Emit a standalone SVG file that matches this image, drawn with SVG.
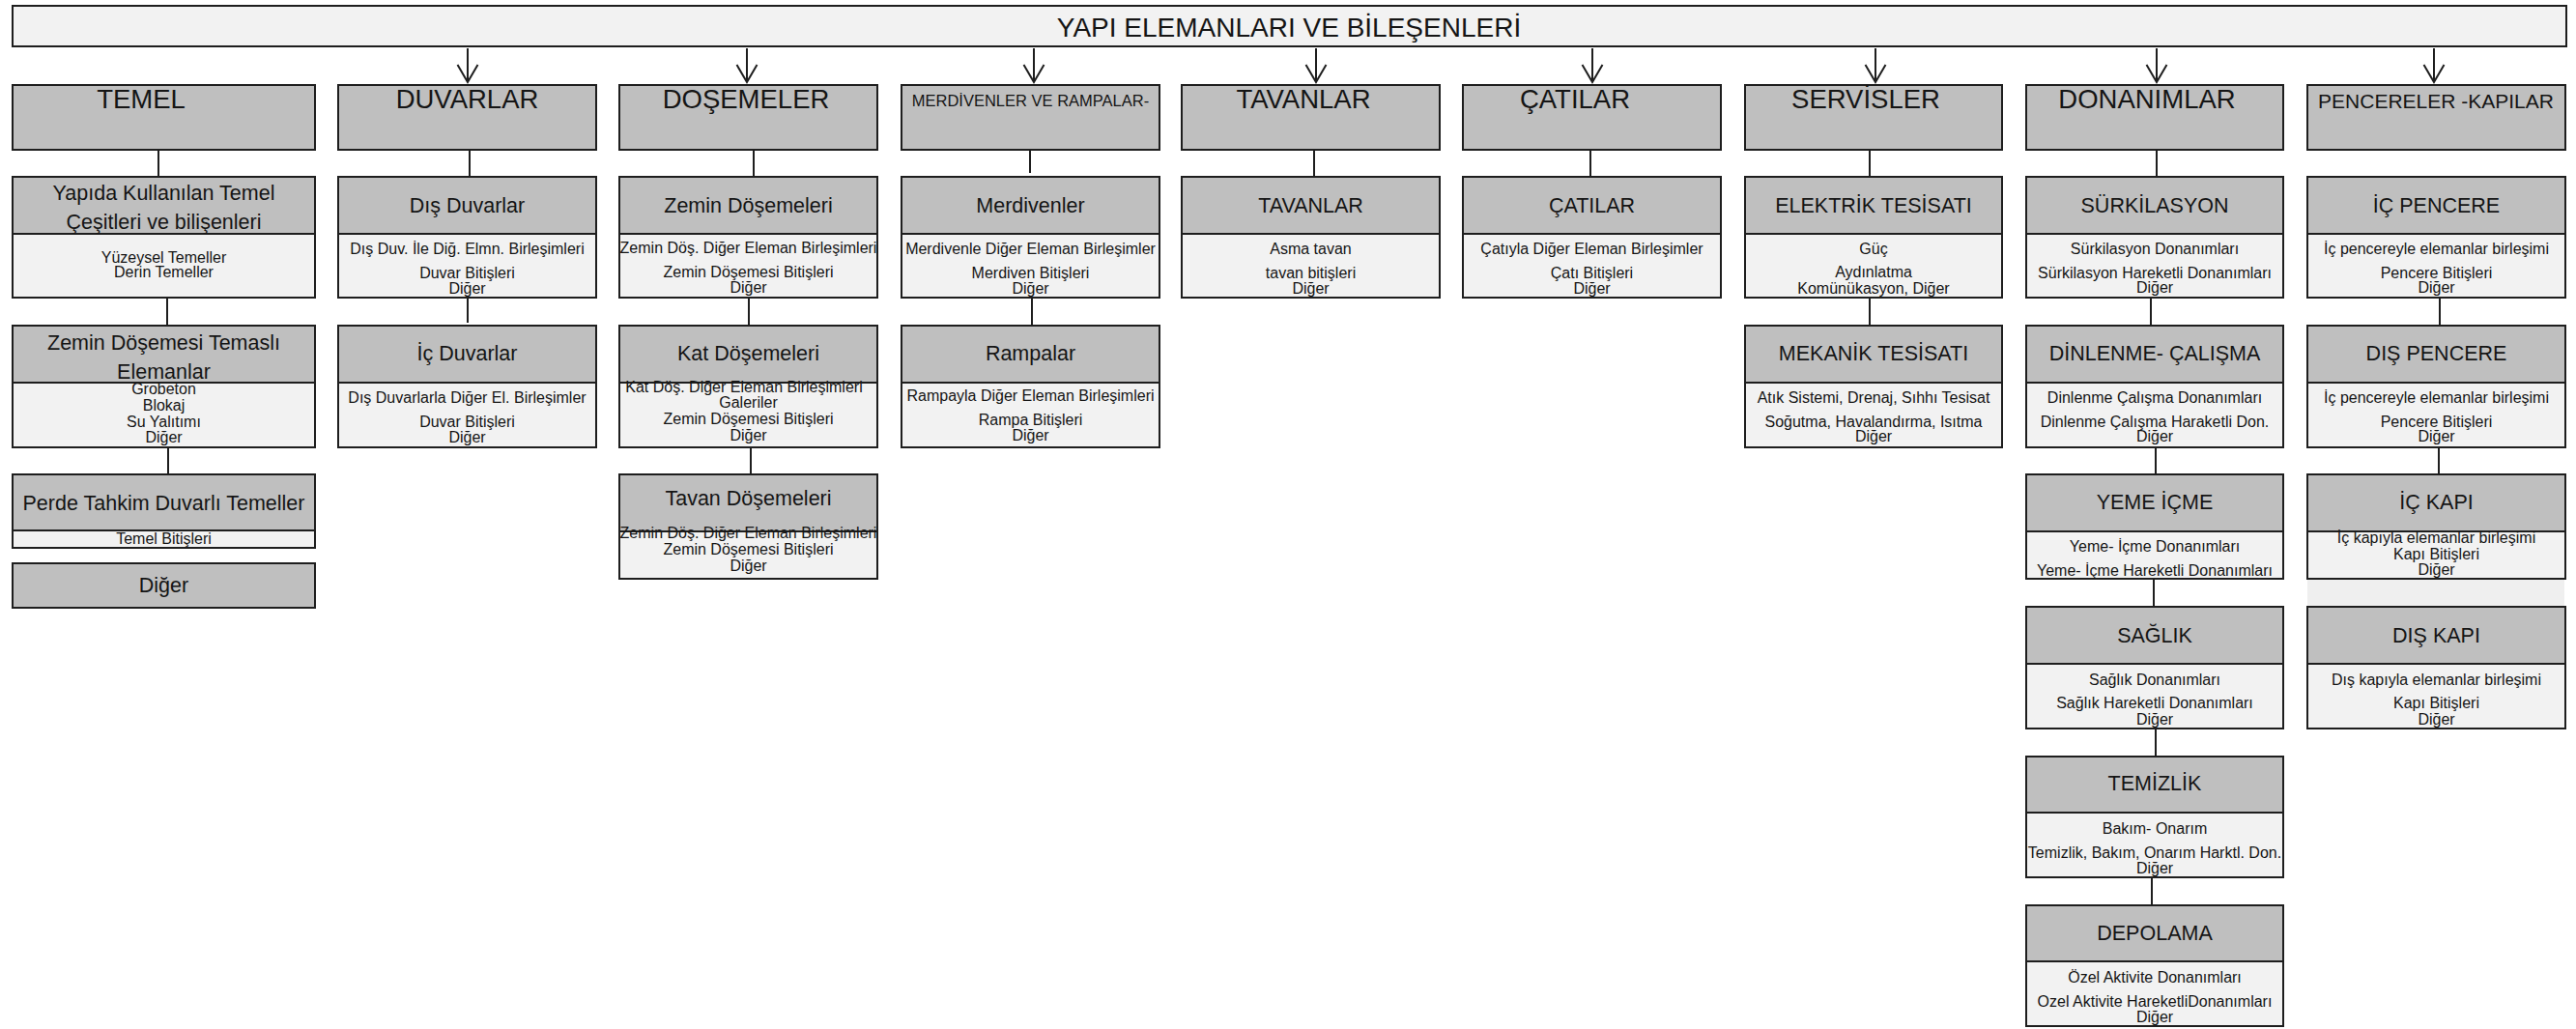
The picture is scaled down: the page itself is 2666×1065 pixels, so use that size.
<svg xmlns="http://www.w3.org/2000/svg" width="2666" height="1065" viewBox="0 0 2666 1065">
  <style>
    .bg { fill: #ffffff; }
    .top { fill: #f2f2f2; stroke: #1e1e1e; stroke-width: 2; }
    .hd { fill: #bfbfbf; stroke: #1e1e1e; stroke-width: 2; }
    .bd { fill: #f2f2f2; stroke: #1e1e1e; stroke-width: 2; }
    .band { fill: #efefef; stroke: none; }
    text { font-family: "Liberation Sans", Arial, sans-serif; fill: #151515; text-anchor: middle; }
    .t0 { font-size: 28px; }
    .t1 { font-size: 27.5px; }
    .t1s { font-size: 16.5px; }
    .t1m { font-size: 21px; }
    .t2 { font-size: 21.5px; }
    .t3 { font-size: 16px; }
    .conn line { stroke: #1e1e1e; stroke-width: 2; fill: none; }
    .conn .arr { marker-end: url(#vhead); }
  </style>
  <defs>
    <marker id="vhead" markerUnits="userSpaceOnUse" markerWidth="40" markerHeight="40" refX="0" refY="0" orient="auto" overflow="visible">
      <path d="M-18,-10.5 L0,0 L-18,10.5" fill="none" stroke="#1e1e1e" stroke-width="2"/>
    </marker>
  </defs>

  <rect class="bg" x="0" y="0" width="2666" height="1065"/>

  <!-- root -->
  <g id="root">
    <rect class="top" x="13" y="6" width="2643" height="42"/>
    <text class="t0" x="1334" y="38">YAPI ELEMANLARI VE BİLEŞENLERİ</text>
  </g>

  <!-- connectors -->
  <g id="connectors" class="conn">
    <line class="arr" x1="484" y1="50" x2="484" y2="85"/>
    <line class="arr" x1="773" y1="50" x2="773" y2="85"/>
    <line class="arr" x1="1070" y1="50" x2="1070" y2="85"/>
    <line class="arr" x1="1362" y1="50" x2="1362" y2="85"/>
    <line class="arr" x1="1648" y1="50" x2="1648" y2="85"/>
    <line class="arr" x1="1941" y1="50" x2="1941" y2="85"/>
    <line class="arr" x1="2232" y1="50" x2="2232" y2="85"/>
    <line class="arr" x1="2519" y1="50" x2="2519" y2="85"/>

    <line x1="164" y1="156" x2="164" y2="183"/>
    <line x1="486" y1="156" x2="486" y2="183"/>
    <line x1="780" y1="156" x2="780" y2="183"/>
    <line x1="1066" y1="152" x2="1066" y2="179"/>
    <line x1="1360" y1="156" x2="1360" y2="183"/>
    <line x1="1646" y1="156" x2="1646" y2="183"/>
    <line x1="1935" y1="156" x2="1935" y2="183"/>
    <line x1="2232" y1="156" x2="2232" y2="183"/>

    <line x1="173" y1="308" x2="173" y2="337"/>
    <line x1="484" y1="308" x2="484" y2="334"/>
    <line x1="775" y1="308" x2="775" y2="337"/>
    <line x1="1068" y1="308" x2="1068" y2="337"/>
    <line x1="1935" y1="308" x2="1935" y2="337"/>
    <line x1="2226" y1="308" x2="2226" y2="337"/>
    <line x1="2525" y1="308" x2="2525" y2="337"/>

    <line x1="174" y1="463" x2="174" y2="491"/>
    <line x1="777" y1="463" x2="777" y2="491"/>
    <line x1="2231" y1="463" x2="2231" y2="491"/>
    <line x1="2524" y1="463" x2="2524" y2="491"/>

    <line x1="2229" y1="599" x2="2229" y2="628"/>
    <line x1="2231" y1="754" x2="2231" y2="783"/>
    <line x1="2227" y1="908" x2="2227" y2="937"/>
  </g>

  <!-- TEMEL -->
  <g id="temel">
    <rect class="hd" x="13" y="88" width="313" height="67"/>
    <text class="t1" x="146" y="112">TEMEL</text>
  </g>
  <g id="temel-cesitleri">
    <rect class="hd" x="13" y="183" width="313" height="59"/>
    <rect class="bd" x="13" y="242" width="313" height="66"/>
    <text class="t2" x="169.5" y="207">Yapıda Kullanılan Temel</text>
    <text class="t2" x="169.5" y="237">Çeşitleri ve bilişenleri</text>
    <text class="t3" x="169.5" y="272">Yüzeysel Temeller</text>
    <text class="t3" x="169.5" y="287">Derin Temeller</text>
  </g>
  <g id="temel-zemin">
    <rect class="hd" x="13" y="337" width="313" height="59"/>
    <rect class="bd" x="13" y="396" width="313" height="67"/>
    <text class="t2" x="169.5" y="362">Zemin Döşemesi Temaslı</text>
    <text class="t2" x="169.5" y="392">Elemanlar</text>
    <text class="t3" x="169.5" y="408">Grobeton</text>
    <text class="t3" x="169.5" y="425">Blokaj</text>
    <text class="t3" x="169.5" y="442">Su Yalıtımı</text>
    <text class="t3" x="169.5" y="458">Diğer</text>
  </g>
  <g id="temel-perde">
    <rect class="hd" x="13" y="491" width="313" height="58"/>
    <rect class="bd" x="13" y="549" width="313" height="18"/>
    <text class="t2" x="169.5" y="528">Perde Tahkim Duvarlı Temeller</text>
    <text class="t3" x="169.5" y="563">Temel Bitişleri</text>
  </g>
  <g id="temel-diger">
    <rect class="hd" x="13" y="583" width="313" height="46"/>
    <text class="t2" x="169.5" y="613">Diğer</text>
  </g>

  <!-- DUVARLAR -->
  <g id="duvarlar">
    <rect class="hd" x="350" y="88" width="267" height="67"/>
    <text class="t1" x="483.5" y="112">DUVARLAR</text>
  </g>
  <g id="dis-duvarlar">
    <rect class="hd" x="350" y="183" width="267" height="59"/>
    <rect class="bd" x="350" y="242" width="267" height="66"/>
    <text class="t2" x="483.5" y="220">Dış Duvarlar</text>
    <text class="t3" x="483.5" y="263">Dış Duv. İle Diğ. Elmn. Birleşimleri</text>
    <text class="t3" x="483.5" y="288">Duvar Bitişleri</text>
    <text class="t3" x="483.5" y="304">Diğer</text>
  </g>
  <g id="ic-duvarlar">
    <rect class="hd" x="350" y="337" width="267" height="59"/>
    <rect class="bd" x="350" y="396" width="267" height="67"/>
    <text class="t2" x="483.5" y="373">İç Duvarlar</text>
    <text class="t3" x="483.5" y="417">Dış Duvarlarla Diğer El. Birleşimler</text>
    <text class="t3" x="483.5" y="442">Duvar Bitişleri</text>
    <text class="t3" x="483.5" y="458">Diğer</text>
  </g>

  <!-- DOŞEMELER -->
  <g id="dosemeler">
    <rect class="hd" x="641" y="88" width="267" height="67"/>
    <text class="t1" x="772" y="112">DOŞEMELER</text>
  </g>
  <g id="zemin-dosemeleri">
    <rect class="hd" x="641" y="183" width="267" height="59"/>
    <rect class="bd" x="641" y="242" width="267" height="66"/>
    <text class="t2" x="774.5" y="220">Zemin Döşemeleri</text>
    <text class="t3" x="774.5" y="262">Zemin Döş. Diğer Eleman Birleşimleri</text>
    <text class="t3" x="774.5" y="287">Zemin Döşemesi Bitişleri</text>
    <text class="t3" x="774.5" y="303">Diğer</text>
  </g>
  <g id="kat-dosemeleri">
    <rect class="hd" x="641" y="337" width="267" height="59"/>
    <rect class="bd" x="641" y="396" width="267" height="67"/>
    <text class="t2" x="774.5" y="373">Kat Döşemeleri</text>
    <text class="t3" x="770" y="406">Kat Döş. Diğer Eleman Birleşimleri</text>
    <text class="t3" x="774.5" y="422">Galeriler</text>
    <text class="t3" x="774.5" y="439">Zemin Döşemesi Bitişleri</text>
    <text class="t3" x="774.5" y="456">Diğer</text>
  </g>
  <g id="tavan-dosemeleri">
    <rect class="hd" x="641" y="491" width="267" height="59"/>
    <rect class="bd" x="641" y="550" width="267" height="49"/>
    <text class="t2" x="774.5" y="523">Tavan Döşemeleri</text>
    <text class="t3" x="774.5" y="557">Zemin Döş. Diğer Eleman Birleşimleri</text>
    <text class="t3" x="774.5" y="574">Zemin Döşemesi Bitişleri</text>
    <text class="t3" x="774.5" y="591">Diğer</text>
  </g>

  <!-- MERDİVENLER VE RAMPALAR -->
  <g id="merdivenler-rampalar">
    <rect class="hd" x="933" y="88" width="267" height="67"/>
    <text class="t1s" x="1066.5" y="110">MERDİVENLER VE RAMPALAR-</text>
  </g>
  <g id="merdivenler">
    <rect class="hd" x="933" y="183" width="267" height="59"/>
    <rect class="bd" x="933" y="242" width="267" height="66"/>
    <text class="t2" x="1066.5" y="220">Merdivenler</text>
    <text class="t3" x="1066.5" y="263">Merdivenle Diğer Eleman Birleşimler</text>
    <text class="t3" x="1066.5" y="288">Merdiven Bitişleri</text>
    <text class="t3" x="1066.5" y="304">Diğer</text>
  </g>
  <g id="rampalar">
    <rect class="hd" x="933" y="337" width="267" height="59"/>
    <rect class="bd" x="933" y="396" width="267" height="67"/>
    <text class="t2" x="1066.5" y="373">Rampalar</text>
    <text class="t3" x="1066.5" y="415">Rampayla Diğer Eleman Birleşimleri</text>
    <text class="t3" x="1066.5" y="440">Rampa Bitişleri</text>
    <text class="t3" x="1066.5" y="456">Diğer</text>
  </g>

  <!-- TAVANLAR -->
  <g id="tavanlar">
    <rect class="hd" x="1223" y="88" width="267" height="67"/>
    <text class="t1" x="1349" y="112">TAVANLAR</text>
  </g>
  <g id="tavanlar-alt">
    <rect class="hd" x="1223" y="183" width="267" height="59"/>
    <rect class="bd" x="1223" y="242" width="267" height="66"/>
    <text class="t2" x="1356.5" y="220">TAVANLAR</text>
    <text class="t3" x="1356.5" y="263">Asma tavan</text>
    <text class="t3" x="1356.5" y="288">tavan bitişleri</text>
    <text class="t3" x="1356.5" y="304">Diğer</text>
  </g>

  <!-- ÇATILAR -->
  <g id="catilar">
    <rect class="hd" x="1514" y="88" width="267" height="67"/>
    <text class="t1" x="1630" y="112">ÇATILAR</text>
  </g>
  <g id="catilar-alt">
    <rect class="hd" x="1514" y="183" width="267" height="59"/>
    <rect class="bd" x="1514" y="242" width="267" height="66"/>
    <text class="t2" x="1647.5" y="220">ÇATILAR</text>
    <text class="t3" x="1647.5" y="263">Çatıyla Diğer Eleman Birleşimler</text>
    <text class="t3" x="1647.5" y="288">Çatı Bitişleri</text>
    <text class="t3" x="1647.5" y="304">Diğer</text>
  </g>

  <!-- SERVİSLER -->
  <g id="servisler">
    <rect class="hd" x="1806" y="88" width="266" height="67"/>
    <text class="t1" x="1931" y="112">SERVİSLER</text>
  </g>
  <g id="elektrik-tesisati">
    <rect class="hd" x="1806" y="183" width="266" height="59"/>
    <rect class="bd" x="1806" y="242" width="266" height="66"/>
    <text class="t2" x="1939" y="220">ELEKTRİK TESİSATI</text>
    <text class="t3" x="1939" y="263">Güç</text>
    <text class="t3" x="1939" y="287">Aydınlatma</text>
    <text class="t3" x="1939" y="304">Komünükasyon, Diğer</text>
  </g>
  <g id="mekanik-tesisati">
    <rect class="hd" x="1806" y="337" width="266" height="59"/>
    <rect class="bd" x="1806" y="396" width="266" height="67"/>
    <text class="t2" x="1939" y="373">MEKANİK TESİSATI</text>
    <text class="t3" x="1939" y="417">Atık Sistemi, Drenaj, Sıhhı Tesisat</text>
    <text class="t3" x="1939" y="442">Soğutma, Havalandırma, Isıtma</text>
    <text class="t3" x="1939" y="457">Diğer</text>
  </g>

  <!-- DONANIMLAR -->
  <g id="donanimlar">
    <rect class="hd" x="2097" y="88" width="266" height="67"/>
    <text class="t1" x="2222" y="112">DONANIMLAR</text>
  </g>
  <g id="surkilasyon">
    <rect class="hd" x="2097" y="183" width="266" height="59"/>
    <rect class="bd" x="2097" y="242" width="266" height="66"/>
    <text class="t2" x="2230" y="220">SÜRKİLASYON</text>
    <text class="t3" x="2230" y="263">Sürkilasyon Donanımları</text>
    <text class="t3" x="2230" y="288">Sürkilasyon Hareketli Donanımları</text>
    <text class="t3" x="2230" y="303">Diğer</text>
  </g>
  <g id="dinlenme-calisma">
    <rect class="hd" x="2097" y="337" width="266" height="59"/>
    <rect class="bd" x="2097" y="396" width="266" height="67"/>
    <text class="t2" x="2230" y="373">DİNLENME- ÇALIŞMA</text>
    <text class="t3" x="2230" y="417">Dinlenme Çalışma Donanımları</text>
    <text class="t3" x="2230" y="442">Dinlenme Çalışma Haraketli Don.</text>
    <text class="t3" x="2230" y="457">Diğer</text>
  </g>
  <g id="yeme-icme">
    <rect class="hd" x="2097" y="491" width="266" height="59"/>
    <rect class="bd" x="2097" y="550" width="266" height="49"/>
    <text class="t2" x="2230" y="527">YEME İÇME</text>
    <text class="t3" x="2230" y="571">Yeme- İçme Donanımları</text>
    <text class="t3" x="2230" y="596">Yeme- İçme Hareketli Donanımları</text>
  </g>
  <g id="saglik">
    <rect class="hd" x="2097" y="628" width="266" height="59"/>
    <rect class="bd" x="2097" y="687" width="266" height="67"/>
    <text class="t2" x="2230" y="665">SAĞLIK</text>
    <text class="t3" x="2230" y="709">Sağlık Donanımları</text>
    <text class="t3" x="2230" y="733">Sağlık Hareketli Donanımları</text>
    <text class="t3" x="2230" y="750">Diğer</text>
  </g>
  <g id="temizlik">
    <rect class="hd" x="2097" y="783" width="266" height="58"/>
    <rect class="bd" x="2097" y="841" width="266" height="67"/>
    <text class="t2" x="2230" y="818">TEMİZLİK</text>
    <text class="t3" x="2230" y="863">Bakım- Onarım</text>
    <text class="t3" x="2230" y="888">Temizlik, Bakım, Onarım Harktl. Don.</text>
    <text class="t3" x="2230" y="904">Diğer</text>
  </g>
  <g id="depolama">
    <rect class="hd" x="2097" y="937" width="266" height="58"/>
    <rect class="bd" x="2097" y="995" width="266" height="67"/>
    <text class="t2" x="2230" y="973">DEPOLAMA</text>
    <text class="t3" x="2230" y="1017">Özel Aktivite Donanımları</text>
    <text class="t3" x="2230" y="1042">Ozel Aktivite HareketliDonanımları</text>
    <text class="t3" x="2230" y="1058">Diğer</text>
  </g>

  <!-- PENCERELER - KAPILAR -->
  <g id="pencereler-kapilar">
    <rect class="hd" x="2388" y="88" width="267" height="67"/>
    <text class="t1m" x="2521" y="112">PENCERELER -KAPILAR</text>
  </g>
  <g id="ic-pencere">
    <rect class="hd" x="2388" y="183" width="267" height="59"/>
    <rect class="bd" x="2388" y="242" width="267" height="66"/>
    <text class="t2" x="2521.5" y="220">İÇ PENCERE</text>
    <text class="t3" x="2521.5" y="263">İç pencereyle elemanlar birleşimi</text>
    <text class="t3" x="2521.5" y="288">Pencere Bitişleri</text>
    <text class="t3" x="2521.5" y="303">Diğer</text>
  </g>
  <g id="dis-pencere">
    <rect class="hd" x="2388" y="337" width="267" height="59"/>
    <rect class="bd" x="2388" y="396" width="267" height="67"/>
    <text class="t2" x="2521.5" y="373">DIŞ PENCERE</text>
    <text class="t3" x="2521.5" y="417">İç pencereyle elemanlar birleşimi</text>
    <text class="t3" x="2521.5" y="442">Pencere Bitişleri</text>
    <text class="t3" x="2521.5" y="457">Diğer</text>
  </g>
  <g id="ic-kapi">
    <rect class="band" x="2388" y="600" width="266" height="27"/>
    <rect class="hd" x="2388" y="491" width="267" height="59"/>
    <rect class="bd" x="2388" y="550" width="267" height="49"/>
    <text class="t2" x="2521.5" y="527">İÇ KAPI</text>
    <text class="t3" x="2521.5" y="562">İç kapıyla elemanlar birleşimi</text>
    <text class="t3" x="2521.5" y="579">Kapı Bitişleri</text>
    <text class="t3" x="2521.5" y="595">Diğer</text>
  </g>
  <g id="dis-kapi">
    <rect class="hd" x="2388" y="628" width="267" height="59"/>
    <rect class="bd" x="2388" y="687" width="267" height="67"/>
    <text class="t2" x="2521.5" y="665">DIŞ KAPI</text>
    <text class="t3" x="2521.5" y="709">Dış kapıyla elemanlar birleşimi</text>
    <text class="t3" x="2521.5" y="733">Kapı Bitişleri</text>
    <text class="t3" x="2521.5" y="750">Diğer</text>
  </g>
</svg>
